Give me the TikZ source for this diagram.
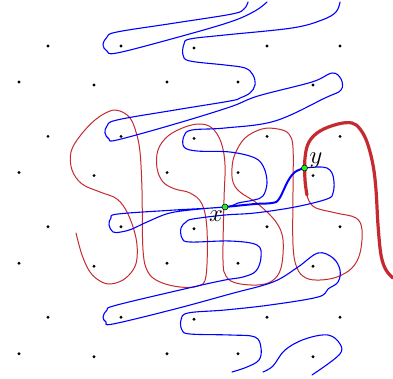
\documentclass[tikz,border=0pt]{standalone}
\usepackage{xcolor}
\usepackage{tikz}
\definecolor{liftred}{HTML}{C42A30}
\definecolor{liftblue}{HTML}{0000FF}
\definecolor{ptgreen}{HTML}{22EE22}

\begin{document}
\begin{tikzpicture}[x=1pt, y=-1pt,
    bluecurve/.style={liftblue, line width=1.1pt, line cap=round, line join=round},
    bluethick/.style={liftblue, line width=2pt, line cap=round},
    redcurve/.style={liftred, line width=1pt, line cap=round, line join=round},
    redthick/.style={liftred, line width=3.2pt, line cap=round},
    gpt/.style={circle, draw=black, line width=0.5pt, fill=ptgreen, inner sep=0pt, minimum size=6pt},
    lbl/.style={inner sep=0pt, font=\Huge},
]
\useasboundingbox (0,0) rectangle (393,379);

% lattice of punctures
\foreach \r in {0,...,3}{
  \foreach \c/\d in {48/0,121/0,194/2,267/0,340/0}
    \fill ({\c},{46+90.4*\r+\d}) circle (1.6);
  \foreach \c/\d in {19/0,94/3,167/0,238/0,313/3}
    \fill ({\c},{82+90.6*\r+\d}) circle (1.6);
}

\coordinate (x) at (225,207);
\coordinate (y) at (304.5,168);

% red lifts
\draw[redcurve] plot[smooth, tension=0.6] coordinates {
  (76,233) (82,255) (90,272) (100,281) (110,284) (123,280) (133,270) (137,258)
  (136,238) (128,214) (117,199) (100,192) (82,184) (72,170) (71,152) (80,136)
  (95,120) (110,111) (120,111) (130,118) (136,132) (140,152) (142,190) (143,250)
  (148,272) (160,282) (180,287) (198,286) (206,276) (207,230) (202,204) (190,193)
  (175,189) (163,182) (157,168) (158,150) (168,136) (185,127) (200,124) (212,128)
  (221,142) (225,165) (224,200) (223,260) (226,276) (236,283) (257,285) (272,281)
  (281,268) (283,240) (276,222) (258,204) (240,192) (233,182) (232,168) (235,154)
  (245,138) (262,129) (278,129) (289,134) (293,148) (293,190) (293,245) (297,268)
  (306,278) (320,280) (337,277) (352,268) (360,253) (362,230) (356,218) (336,213)
  (316,208) (309,201) (307,195)};
\draw[redthick] plot[smooth, tension=0.6] coordinates {
  (307,195) (305,180) (305,158) (309,142) (320,131) (338,124) (352,123) (360,129)
  (367,142) (373,165) (376,190) (378,225) (381,255) (386,270) (393,278)};

% blue lifts
\draw[bluecurve] plot[smooth, tension=0.6] coordinates {
  (248,2) (244,9) (232,14) (175,23) (117,32) (107,37) (103,45) (107,51) (117,53)
  (175,38) (230,22) (255,11) (267,2)};
\draw[bluecurve] plot[smooth, tension=0.6] coordinates {
  (340,2) (336,12) (322,20) (292,28) (225,35) (190,39) (184,44) (183,55) (190,61)
  (225,65) (245,68) (253,75) (255,85) (250,93) (240,98) (230,101) (175,110)
  (117,120) (107,126) (105,133) (109,139) (117,140) (175,124) (230,107) (258,96)
  (312,82) (332,73) (341,79) (341,90) (325,98) (275,121) (225,128) (192,130)
  (184,136) (184,147) (197,151) (230,152) (255,158) (264,168) (267,183) (263,196)
  (254,200) (238,203) (x) (175,210) (118,214) (111,218) (109,225) (113,232)
  (121,232) (132,229) (147,222) (170,213) (200,209) (x)};
\draw[bluethick] plot[smooth, tension=0.6] coordinates {
  (x) (255,204) (272,203) (279,199) (288,181) (295,172) (y)};
\draw[bluecurve] plot[smooth, tension=0.6] coordinates {
  (y) (318,167) (327,168) (332,173) (334,182) (333,193) (327,199) (295,207)
  (255,213) (225,215) (193,219) (186,222) (181,228) (182,238) (190,242) (230,241)
  (257,245) (261,257) (256,271) (243,277) (225,280) (193,287) (117,305)
  (107,310) (103,317) (106,322) (113,324) (175,309) (230,294) (273,282) (298,267)
  (318,253) (333,258) (340,270) (338,282) (328,289) (318,297) (270,305) (225,310)
  (188,313) (181,320) (182,330) (190,334) (230,335) (255,337) (261,348) (259,360)
  (247,367) (232,372)};
\draw[bluecurve] plot[smooth, tension=0.6] coordinates {
  (263,372) (273,366) (285,350) (305,339) (328,335) (340,344) (339,355) (312,375)};

% base points
\node[gpt] (ptx) at (x) {};
\node[gpt] (pty) at (y) {};
\node[lbl] (xlabel) at (216,216) {$x$};
\node[lbl] (ylabel) at (316,161) {$y$};
\end{tikzpicture}
\end{document}
